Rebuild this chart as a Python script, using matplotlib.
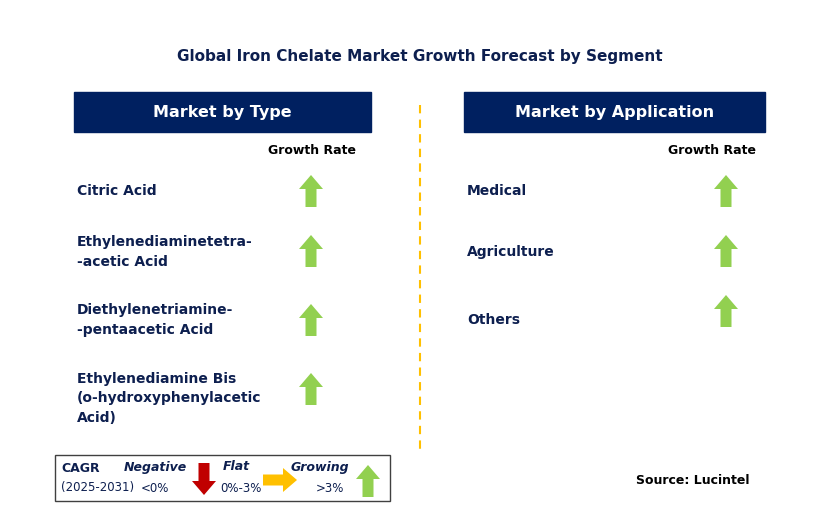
import matplotlib.pyplot as plt
from matplotlib.patches import Rectangle, FancyArrow

title = "Global Iron Chelate Market Growth Forecast by Segment"
type_labels = ["Citric Acid", "Ethylenediaminetetra-\n-acetic Acid",
               "Diethylenetriamine-\n-pentaacetic Acid",
               "Ethylenediamine Bis\n(o-hydroxyphenylacetic\nAcid)"]
type_trend = ["up", "up", "up", "up"]
app_labels = ["Medical", "Agriculture", "Others"]
app_trend = ["up", "up", "up"]

navy = "#002060"
green = "#92D050"
red = "#C00000"
amber = "#FFC000"
text_c = "#0D1F4F"

fig = plt.figure(figsize=(8.29, 5.29), dpi=100)
ax = fig.add_axes([0, 0, 1, 1])
ax.set_xlim(0, 829)
ax.set_ylim(529, 0)
ax.axis("off")


def up_arrow(x, y, c=green):
    # y is vertical center
    ax.add_patch(FancyArrow(x, y + 16, 0, -32, width=11, head_width=24,
                            head_length=14, length_includes_head=True,
                            color=c, lw=0))


ax.text(420, 57, title, ha="center", va="center", fontsize=11,
        fontweight="bold", color=text_c)

# headers
for x0, w, lab in [(74, 297, "Market by Type"), (464, 301, "Market by Application")]:
    ax.add_patch(Rectangle((x0, 92), w, 40, color=navy))
    ax.text(x0 + w / 2, 112, lab, ha="center", va="center", fontsize=11.5,
            fontweight="bold", color="white")

ax.plot([420, 420], [105, 450], ls=(0, (4, 3)), color=amber, lw=1.5)

ax.text(312, 151, "Growth Rate", ha="center", va="center", fontsize=9,
        fontweight="bold", color="black")
ax.text(712, 151, "Growth Rate", ha="center", va="center", fontsize=9,
        fontweight="bold", color="black")

type_y = [191, 252, 320, 398]
type_arrow_y = [191, 251, 320, 389]
for lab, t, y, ay in zip(type_labels, type_trend, type_y, type_arrow_y):
    ax.text(77, y, lab, ha="left", va="center", fontsize=10, fontweight="bold",
            color=text_c, linespacing=1.5)
    up_arrow(311, ay)

app_y = [191, 252, 320]
app_arrow_y = [191, 251, 311]
for lab, t, y, ay in zip(app_labels, app_trend, app_y, app_arrow_y):
    ax.text(467, y, lab, ha="left", va="center", fontsize=10, fontweight="bold",
            color=text_c)
    up_arrow(726, ay)

# legend
ax.add_patch(Rectangle((55, 455), 335, 46, fill=False, ec="#404040", lw=1))
ax.text(61, 468, "CAGR", fontsize=9, fontweight="bold", color=text_c, va="center")
ax.text(61, 488, "(2025-2031)", fontsize=8.5, color=text_c, va="center")
ax.text(155, 467, "Negative", fontsize=9, fontweight="bold", style="italic",
        color=text_c, ha="center", va="center")
ax.text(155, 489, "<0%", fontsize=8.5, color=text_c, ha="center", va="center")
ax.add_patch(FancyArrow(204, 463, 0, 32, width=11, head_width=24,
                        head_length=14, length_includes_head=True, color=red, lw=0))
ax.text(236, 467, "Flat", fontsize=9, fontweight="bold", style="italic",
        color=text_c, ha="center", va="center")
ax.text(241, 489, "0%-3%", fontsize=8.5, color=text_c, ha="center", va="center")
ax.add_patch(FancyArrow(263, 480, 34, 0, width=11, head_width=24,
                        head_length=14, length_includes_head=True, color=amber, lw=0))
ax.text(320, 467, "Growing", fontsize=9, fontweight="bold", style="italic",
        color=text_c, ha="center", va="center")
ax.text(330, 489, ">3%", fontsize=8.5, color=text_c, ha="center", va="center")
up_arrow(368, 481)

ax.text(750, 481, "Source: Lucintel", ha="right", va="center", fontsize=9,
        fontweight="bold", color="black")

fig.savefig("out.png", dpi=100)
